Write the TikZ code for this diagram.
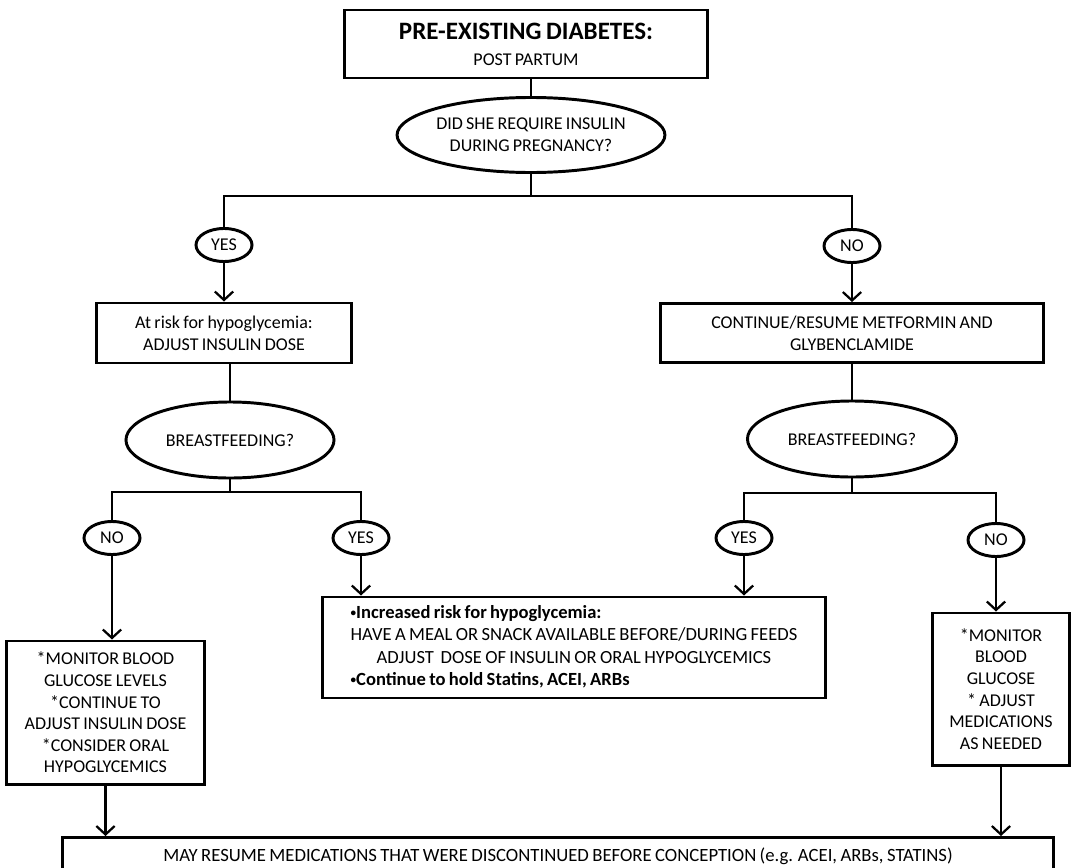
\documentclass[tikz,border=0pt]{standalone}
\usepackage{fontspec}
\usepackage{graphicx}
\setmainfont{Carlito}[WordSpace=0.8]
\usetikzlibrary{arrows.meta,shapes.geometric,positioning}
\newcommand{\smallbullet}{\raisebox{.2ex}{\scalebox{.6}{•}}}
\tikzset{
  box/.style={draw=black,line width=2.1pt,rectangle,align=center,inner sep=2pt},
  oval/.style={draw=black,line width=2.1pt,ellipse,align=center,inner sep=0pt},
  tinyoval/.style={oval,minimum width=1.4cm,minimum height=.825cm},
  link/.style={draw=black,line width=1.6pt},
  flow/.style={link,-{Straight Barb[length=6pt,width=13pt]}}
}

\begin{document}
\begin{tikzpicture}[x=.025cm,y=-.025cm,font=\fontsize{12.8}{15.4}\selectfont]
  \useasboundingbox (0,0) rectangle (1073,868);
  % top question
  \node[box,minimum width=9.05cm,minimum height=1.7cm] (title) at (526,44)
    {{\fontsize{17.8}{19}\selectfont\bfseries PRE-EXISTING DIABETES:}\\[3pt]POST PARTUM};
  \node[oval,minimum width=6.6cm,minimum height=1.875cm] (insulin) at (531,135)
    {DID SHE REQUIRE INSULIN\\DURING PREGNANCY?};
  \coordinate (split) at (531,196);
  \node[tinyoval] (yes) at (224,245) {YES};
  \node[tinyoval] (no) at (852,246) {NO};
  % second level
  \node[box,minimum width=6.35cm,minimum height=1.5cm] (risk) at (224,333)
    {At risk for hypoglycemia:\\ADJUST INSULIN DOSE};
  \node[box,minimum width=9.575cm,minimum height=1.475cm] (resume) at (852,333)
    {CONTINUE/RESUME METFORMIN AND\\GLYBENCLAMIDE};
  \node[oval,minimum width=5.2cm,minimum height=1.9cm] (bfleft) at (230,440) {BREASTFEEDING?};
  \node[oval,minimum width=5.225cm,minimum height=1.9cm] (bfright) at (852,439) {BREASTFEEDING?};
  \coordinate (splitl) at (230,492);
  \coordinate (splitr) at (852,493);
  \node[tinyoval] (noleft) at (112,538) {NO};
  \node[tinyoval] (yesleft) at (361,538) {YES};
  \node[tinyoval] (yesright) at (744,538) {YES};
  \node[tinyoval] (noright) at (996,540) {NO};
  % outcomes
  \node[box,minimum width=4.925cm,minimum height=3.575cm] (monleft) at (105.5,712.5)
    {*MONITOR BLOOD\\GLUCOSE LEVELS\\*CONTINUE TO\\ADJUST INSULIN DOSE\\*CONSIDER ORAL\\HYPOGLYCEMICS};
  \node[box,minimum width=12.55cm,minimum height=2.525cm,font=\fontsize{13.2}{15.8}\selectfont] (feeds) at (574,647.5)
    {\begin{tabular}{@{}l@{}}
       \bfseries\smallbullet Increased risk for hypoglycemia:\\
       \multicolumn{1}{@{}c@{}}{HAVE A MEAL OR SNACK AVAILABLE BEFORE/DURING FEEDS}\\
       \multicolumn{1}{@{}c@{}}{ADJUST\ \ DOSE OF INSULIN OR ORAL HYPOGLYCEMICS}\\
       \bfseries\smallbullet Continue to hold Statins, ACEI, ARBs
     \end{tabular}};
  \node[box,minimum width=3.425cm,minimum height=3.8cm] (monright) at (1001,689)
    {*MONITOR\\BLOOD\\GLUCOSE\\* ADJUST\\MEDICATIONS\\AS NEEDED};
  \node[box,anchor=north,minimum width=24.75cm,inner ysep=0pt,text height=.6cm,text depth=1cm,
        font=\fontsize{13.3}{15.4}\selectfont] (final) at (558,836)
    {MAY RESUME MEDICATIONS THAT WERE DISCONTINUED BEFORE CONCEPTION (e.g. ACEI, ARBs, STATINS)};

  % connectors
  \draw[link] (insulin.north |- title.south) -- (insulin.north);
  \draw[link] (insulin.south) -- (split);
  \draw[link] (yes.north) -- (yes.north |- split) -- (no.north |- split) -- (no.north);
  \draw[flow] (yes.south) -- (risk.north);
  \draw[flow] (no.south) -- (resume.north);
  \draw[link] (risk.south -| bfleft.north) -- (bfleft.north);
  \draw[link] (resume.south) -- (bfright.north);
  \draw[link] (bfleft.south) -- (splitl);
  \draw[link] (bfright.south) -- (splitr);
  \draw[link] (noleft.north) -- (noleft.north |- splitl) -- (yesleft.north |- splitl) -- (yesleft.north);
  \draw[link] (yesright.north) -- (yesright.north |- splitr) -- (noright.north |- splitr) -- (noright.north);
  \draw[flow] (noleft.south) -- (noleft.south |- monleft.north);
  \draw[flow] (yesleft.south) -- (yesleft.south |- feeds.north);
  \draw[flow] (yesright.south) -- (yesright.south |- feeds.north);
  \draw[flow] (noright.south) -- (noright.south |- monright.north);
  \draw[flow] (monleft.south) -- (monleft.south |- final.north);
  \draw[flow] (monright.south) -- (monright.south |- final.north);
\end{tikzpicture}
\end{document}
